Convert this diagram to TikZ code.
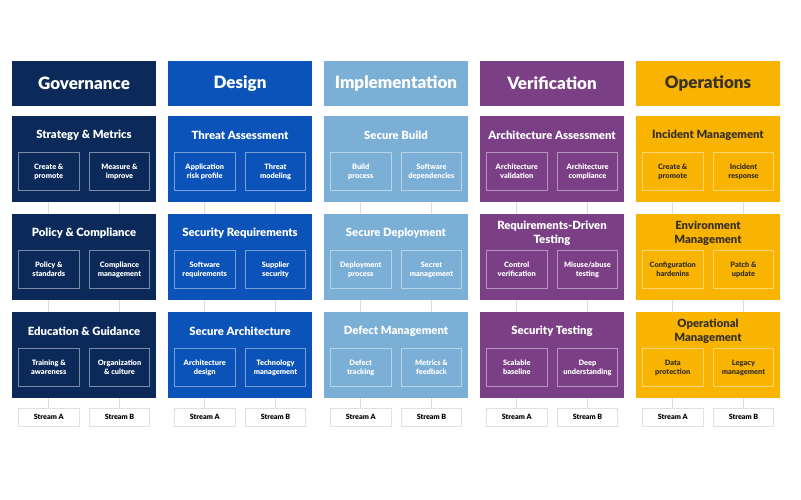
\documentclass[tikz,border=0pt]{standalone}
\usepackage{fontspec}
\setmainfont{Lato}[BoldFont={Lato Black}]
\definecolor{govc}{HTML}{0B2A5A}
\definecolor{desc}{HTML}{0B53B8}
\definecolor{impc}{HTML}{7BAFD6}
\definecolor{verc}{HTML}{7B3F85}
\definecolor{opsc}{HTML}{F8B400}
\definecolor{opstext}{HTML}{3A3127}
\definecolor{connc}{HTML}{DCDCDC}
\tikzset{
  hdr/.style={rectangle, minimum width=144pt, minimum height=45pt, inner sep=0pt,
    font=\fontsize{17}{20}\selectfont\bfseries},
  catbox/.style={rectangle, minimum width=144pt, minimum height=86pt, inner sep=0pt},
  cattitle/.style={align=center, inner sep=0pt, font=\fontsize{11.3}{14}\selectfont\bfseries},
  subbox/.style={rectangle, draw=white, draw opacity=0.45, line width=0.6pt,
    minimum width=60.5pt, minimum height=38.5pt, inner sep=0pt, align=center,
    font=\fontsize{7.4}{9}\selectfont\bfseries},
  streambox/.style={rectangle, draw=black!12, fill=white, line width=0.6pt,
    minimum width=60.5pt, minimum height=18pt, inner sep=0pt, text=black,
    font=\fontsize{7.2}{8}\selectfont\bfseries},
  conn/.style={draw=connc, line width=0.7pt},
  gov/.style={fill=govc, text=white},
  des/.style={fill=desc, text=white},
  imp/.style={fill=impc, text=white},
  ver/.style={fill=verc, text=white},
  ops/.style={fill=opsc, text=opstext},
}
% #1 col, #2 row, #3 left x, #4 top y, #5 style, #6 title, #7 sub A, #8 sub B
\newcommand\prac[8]{%
  \node[catbox,#5] (c#1#2) at (#3+72,#4+43) {};
  \node[cattitle,#5] (t#1#2) at (#3+72,#4+19.5) {#6};
  \node[subbox,#5] (s#1#2a) at (#3+36.75,#4+55.5) {#7};
  \node[subbox,#5] (s#1#2b) at (#3+107.5,#4+55.5) {#8};
}
\begin{document}
\begin{tikzpicture}[x=1pt,y=-1pt]
\useasboundingbox[fill=white] (0,0) rectangle (801,500);
% headers
\node[hdr,gov] (h1) at (84,83.5) {Governance};
\node[hdr,des] (h2) at (240,83.5) {Design};
\node[hdr,imp] (h3) at (396,83.5) {Implementation};
\node[hdr,ver] (h4) at (552,83.5) {Verification};
\node[hdr,ops] (h5) at (708,83.5) {Operations};
% Governance
\prac{1}{1}{12}{116}{gov}{Strategy \& Metrics}{Create \&\\promote}{Measure \&\\improve}
\prac{1}{2}{12}{214}{gov}{Policy \& Compliance}{Policy \&\\standards}{Compliance\\management}
\prac{1}{3}{12}{312}{gov}{Education \& Guidance}{Training \&\\awareness}{Organization\\\& culture}
% Design
\prac{2}{1}{168}{116}{des}{Threat Assessment}{Application\\risk profile}{Threat\\modeling}
\prac{2}{2}{168}{214}{des}{Security Requirements}{Software\\requirements}{Supplier\\security}
\prac{2}{3}{168}{312}{des}{Secure Architecture}{Architecture\\design}{Technology\\management}
% Implementation
\prac{3}{1}{324}{116}{imp}{Secure Build}{Build\\process}{Software\\dependencies}
\prac{3}{2}{324}{214}{imp}{Secure Deployment}{Deployment\\process}{Secret\\management}
\prac{3}{3}{324}{312}{imp}{Defect Management}{Defect\\tracking}{Metrics \&\\feedback}
% Verification
\prac{4}{1}{480}{116}{ver}{Architecture Assessment}{Architecture\\validation}{Architecture\\compliance}
\prac{4}{2}{480}{214}{ver}{Requirements-Driven\\Testing}{Control\\verification}{Misuse/abuse\\testing}
\prac{4}{3}{480}{312}{ver}{Security Testing}{Scalable\\baseline}{Deep\\understanding}
% Operations
\prac{5}{1}{636}{116}{ops}{Incident Management}{Create \&\\promote}{Incident\\response}
\prac{5}{2}{636}{214}{ops}{Environment\\Management}{Configuration\\hardenins}{Patch \&\\update}
\prac{5}{3}{636}{312}{ops}{Operational\\Management}{Data\\protection}{Legacy\\management}
% stream labels
\foreach \c/\l in {1/12,2/168,3/324,4/480,5/636}{
  \node[streambox] (st\c a) at (\l+36.75,417) {Stream A};
  \node[streambox] (st\c b) at (\l+107.5,417) {Stream B};
}
% connectors
\foreach \c in {1,...,5}{
  \foreach \s in {a,b}{
    \draw[conn] (c\c1.south -| s\c1\s.center) -- (c\c2.north -| s\c2\s.center);
    \draw[conn] (c\c2.south -| s\c2\s.center) -- (c\c3.north -| s\c3\s.center);
    \draw[conn] (c\c3.south -| s\c3\s.center) -- (st\c\s.north);
  }
}
\end{tikzpicture}
\end{document}
